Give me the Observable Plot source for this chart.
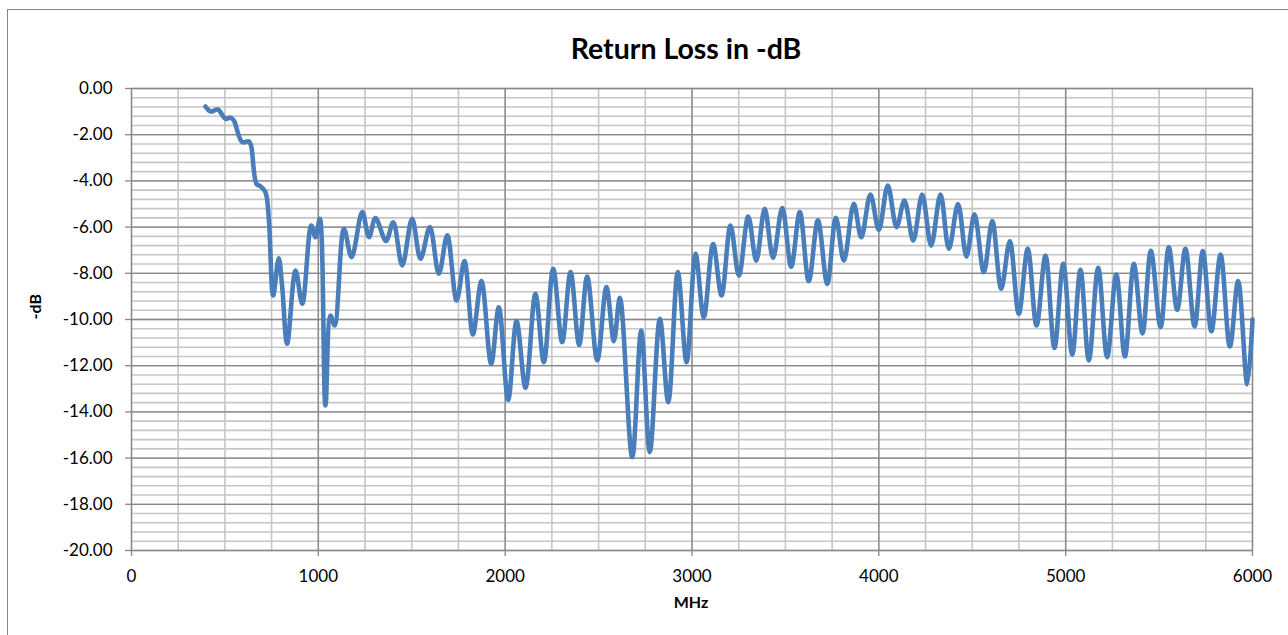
<!DOCTYPE html>
<html>
<head>
<meta charset="utf-8">
<script src="https://cdn.jsdelivr.net/npm/d3@7"></script>
<script src="https://cdn.jsdelivr.net/npm/@observablehq/plot@0.6"></script>
<style>
html, body { margin: 0; padding: 0; background: #fff; }
#chart { position: relative; width: 1288px; height: 635px; overflow: hidden; }
#frame { position: absolute; left: 7px; top: 9px; width: 1320px; height: 700px; border: 1px solid #868686; box-sizing: border-box; pointer-events: none; }
#chart svg { position: absolute; left: 0; top: 0; }
</style>
</head>
<body>
<div id="chart"><div id="frame"></div></div>
<script>
// ---- data ----
const title = "Return Loss in -dB";
const xLabel = "MHz";
const yLabel = "-dB";

const mhz = [
  396, 426, 462, 503, 530, 548, 592, 628, 640, 669, 690, 717, 735, 758, 788, 806, 833, 878, 914, 962,
  985, 1008, 1038, 1065, 1087, 1137, 1178, 1235, 1271, 1306, 1362, 1401, 1449, 1502, 1547, 1597, 1645, 1690, 1740, 1782,
  1827, 1873, 1925, 1966, 2016, 2061, 2109, 2162, 2207, 2257, 2305, 2350, 2396, 2439, 2493, 2542, 2582, 2614, 2680, 2728,
  2774, 2828, 2873, 2924, 2971, 3019, 3063, 3113, 3158, 3206, 3251, 3301, 3344, 3389, 3434, 3483, 3531, 3577, 3625, 3674,
  3724, 3770, 3813, 3866, 3906, 3955, 4000, 4048, 4095, 4137, 4184, 4232, 4280, 4330, 4375, 4424, 4469, 4512, 4562, 4607,
  4655, 4701, 4749, 4797, 4844, 4892, 4940, 4987, 5035, 5079, 5124, 5174, 5222, 5271, 5317, 5365, 5411, 5456, 5508, 5552,
  5597, 5641, 5690, 5734, 5780, 5829, 5879, 5923, 5972, 6000
];
const returnLoss = [
  -0.78, -1.00, -0.91, -1.31, -1.26, -1.39, -2.32, -2.29, -2.47, -4.13, -4.23, -4.49, -5.64, -8.96, -7.35, -8.53, -11.05, -7.88, -9.32, -5.93,
  -6.44, -5.64, -13.72, -9.83, -10.26, -6.07, -7.30, -5.35, -6.44, -5.61, -6.60, -5.79, -7.66, -5.64, -7.37, -6.00, -8.02, -6.36, -9.18, -7.47,
  -10.65, -8.34, -11.92, -9.47, -13.48, -10.07, -12.96, -8.89, -11.85, -7.81, -10.98, -7.95, -11.10, -8.14, -11.77, -8.60, -10.94, -9.06, -15.96, -10.48,
  -15.74, -9.97, -13.58, -7.95, -11.85, -7.16, -9.90, -6.73, -8.96, -5.93, -8.10, -5.54, -7.45, -5.21, -7.33, -5.17, -7.71, -5.35, -8.34, -5.71,
  -8.46, -5.60, -7.45, -4.99, -6.44, -4.59, -6.12, -4.20, -6.00, -4.85, -6.58, -4.59, -6.80, -4.59, -6.94, -5.00, -7.27, -5.45, -7.95, -5.74,
  -8.67, -6.61, -9.75, -6.94, -10.26, -7.23, -11.23, -7.59, -11.52, -7.85, -11.77, -7.76, -11.63, -8.05, -11.60, -7.59, -10.60, -7.03, -10.33, -6.87,
  -9.58, -6.94, -10.30, -7.04, -10.51, -7.19, -11.17, -8.34, -12.81, -10.00
];

const xTicks = [0, 1000, 2000, 3000, 4000, 5000, 6000];
const yTicks = [0, -2, -4, -6, -8, -10, -12, -14, -16, -18, -20];
const xMinorStep = 250;
const yMinorStep = 0.4;

// ---- build ----
const data = mhz.map((m, i) => ({ mhz: m, dB: returnLoss[i] }));
const xMinor = d3.range(0, 6000 + 1e-9, xMinorStep);
const yMinor = d3.range(0, 51).map(i => -i * yMinorStep);

const font = "Lato, 'Open Sans', sans-serif";
const majorColor = "#878787";
const minorColor = "#c6c6c6";

const plot = Plot.plot({
  width: 1288,
  height: 635,
  marginLeft: 131,
  marginRight: 36,
  marginTop: 88,
  marginBottom: 85,
  style: { fontFamily: font, fontSize: "17px", color: "#000", background: "transparent", overflow: "visible" },
  x: { domain: [0, 6000] },
  y: { domain: [-20, 0] },
  marks: [
    Plot.gridX(xMinor, { stroke: minorColor, strokeOpacity: 1, strokeWidth: 1.6 }),
    Plot.gridY(yMinor, { stroke: minorColor, strokeOpacity: 1, strokeWidth: 1.6 }),
    Plot.gridX(xTicks, { stroke: majorColor, strokeOpacity: 1, strokeWidth: 1.3 }),
    Plot.gridY(yTicks, { stroke: majorColor, strokeOpacity: 1, strokeWidth: 1.3 }),
    Plot.axisX(xTicks, { tickSize: 6, tickPadding: 13, stroke: majorColor, strokeWidth: 1.3, label: null, tickFormat: d => String(d), fill: "#000" }),
    Plot.axisY(yTicks, { tickSize: 6, tickPadding: 13, stroke: majorColor, strokeWidth: 1.3, label: null, tickFormat: d => d.toFixed(2), fill: "#000" }),
    Plot.line(data, { x: "mhz", y: "dB", stroke: "#4a7ebb", strokeWidth: 4.6, curve: "catmull-rom", strokeLinejoin: "round", strokeLinecap: "round" }),
    Plot.text([title], { frameAnchor: "top", dx: -6, dy: -50, fontSize: 28.5, fontWeight: "bold", fill: "#000" }),
    Plot.text([xLabel], { frameAnchor: "bottom", dx: -1, dy: 57, fontSize: 16, fontWeight: "bold", fill: "#000" }),
    Plot.text([yLabel], { frameAnchor: "left", dx: -96, dy: 0, rotate: -90, fontSize: 16, fontWeight: "bold", fill: "#000" })
  ]
});
document.getElementById("chart").appendChild(plot);
</script>
</body>
</html>
